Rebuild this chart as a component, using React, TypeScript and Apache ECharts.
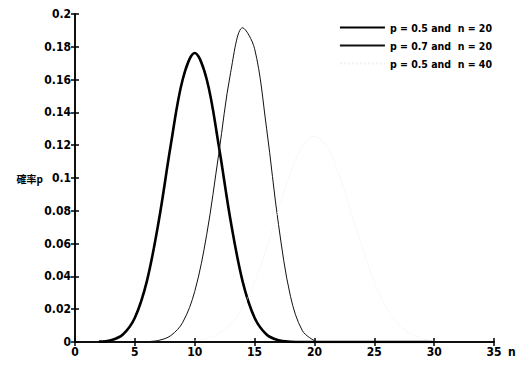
import React, { useEffect, useRef } from "react";
import * as echarts from "echarts";

const seriesNames = ["p = 0.5 and  n = 20", "p = 0.7 and  n = 20", "p = 0.5 and  n = 40"];

// p = 0.5, n = 20 (n from 2 to 30)
const nA = [2, 3, 4, 5, 6, 7, 8, 9, 10, 11, 12, 13, 14, 15, 16, 17, 18, 19, 20, 22, 24, 26, 28, 30];
const pA = [0.0002, 0.0011, 0.0046, 0.0148, 0.037, 0.0739, 0.1201, 0.1602, 0.1762, 0.1602, 0.1201, 0.0739, 0.037, 0.0148, 0.0046, 0.0011, 0.0002, 0.0, 0.0, 0, 0, 0, 0, 0];

// p = 0.7, n = 20 (n from 6 to 20)
const nB = [6, 7, 8, 9, 10, 11, 12, 13, 14, 15, 16, 17, 18, 19, 20];
const pB = [0.0002, 0.001, 0.0039, 0.012, 0.0308, 0.0654, 0.1144, 0.1643, 0.1916, 0.1789, 0.1304, 0.0716, 0.0278, 0.0068, 0.0008];

// p = 0.5, n = 40 (very faint in the reference)
const nC = [10, 11, 12, 13, 14, 15, 16, 17, 18, 19, 20, 21, 22, 23, 24, 25, 26, 27, 28, 29, 30];
const pC = [0.0008, 0.0021, 0.0051, 0.0109, 0.0211, 0.0366, 0.0572, 0.0807, 0.1031, 0.1194, 0.1254, 0.1194, 0.1031, 0.0807, 0.0572, 0.0366, 0.0211, 0.0109, 0.0051, 0.0021, 0.0008];

const xTicks = { min: 0, max: 35, interval: 5 };
const yTicks = { min: 0, max: 0.2, interval: 0.02 };

const FONT = "'DejaVu Sans Condensed', sans-serif";

export default function App() {
  const ref = useRef<HTMLDivElement>(null);
  useEffect(() => {
    if (!ref.current) return;
    const chart = echarts.init(ref.current, undefined, { renderer: "svg" });
    const axisLine = { show: true, lineStyle: { color: "#000", width: 1.5 } };
    const tick = { show: true, inside: true, length: 4, lineStyle: { color: "#000", width: 1.5 } };
    const label = { color: "#000", fontSize: 12, fontFamily: FONT, fontWeight: "bold" as const };
    chart.setOption({
      animation: false,
      backgroundColor: "#fff",
      grid: { left: 67, right: 28, top: 4, bottom: 16 },
      legend: {
        orient: "vertical",
        right: 30,
        top: 14,
        padding: 0,
        itemWidth: 45,
        itemHeight: 10,
        itemGap: 7,
        align: "left",
        itemStyle: { opacity: 0 },
        textStyle: { color: "#000", fontSize: 10.5, fontFamily: FONT, fontWeight: "bold" },
        data: seriesNames,
      },
      xAxis: [
        {
          type: "value",
          ...xTicks,
          position: "bottom",
          axisLine,
          axisTick: tick,
          splitLine: { show: false },
          axisLabel: { ...label, margin: 4 },
          name: "n",
          nameLocation: "end",
          nameGap: 14,
          nameTextStyle: { ...label, verticalAlign: "top", padding: [4, 0, 0, 0] },
        },
        {
          type: "value",
          ...xTicks,
          position: "top",
          axisLine,
          axisTick: tick,
          splitLine: { show: false },
          axisLabel: { show: false },
        },
      ],
      yAxis: [
        {
          type: "value",
          ...yTicks,
          position: "left",
          axisLine,
          axisTick: tick,
          splitLine: { show: false },
          axisLabel: { ...label, margin: 4 },
          name: "確率p",
          nameLocation: "middle",
          nameRotate: 0,
          nameGap: 32,
          nameMoveOverlap: false,
          nameTextStyle: { color: "#000", fontSize: 10, fontFamily: "'Noto Sans CJK JP', sans-serif", fontWeight: "bold" },
        },
        {
          type: "value",
          ...yTicks,
          position: "right",
          axisLine,
          axisTick: tick,
          splitLine: { show: false },
          axisLabel: { show: false },
        },
      ],
      series: [
        {
          name: seriesNames[0],
          type: "line",
          data: nA.map((n, i) => [n, pA[i]]),
          smooth: 0.35,
          showSymbol: false,
          symbol: "none",
          lineStyle: { color: "#000", width: 2.6 },
          itemStyle: { color: "#000" },
        },
        {
          name: seriesNames[1],
          type: "line",
          data: nB.map((n, i) => [n, pB[i]]),
          smooth: 0.35,
          showSymbol: false,
          symbol: "none",
          lineStyle: { color: "#111", width: 1 },
          itemStyle: { color: "#111" },
        },
        {
          name: seriesNames[2],
          type: "line",
          data: nC.map((n, i) => [n, pC[i]]),
          smooth: 0.35,
          showSymbol: false,
          symbol: "none",
          lineStyle: { color: "#f0f0f0", width: 1, type: "dotted" },
          itemStyle: { color: "#f0f0f0" },
        },
      ],
    });
    return () => chart.dispose();
  }, []);
  return <div ref={ref} style={{ width: 514, height: 350 }} />;
}
